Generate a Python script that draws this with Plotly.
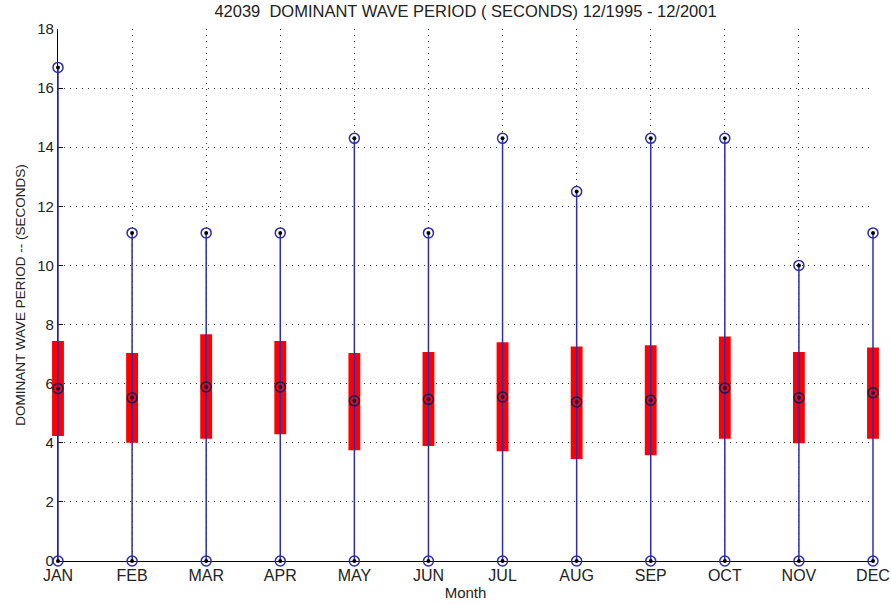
import plotly.graph_objects as go

# Monthly dominant wave period statistics, buoy 42039 (seconds)
months = ["JAN", "FEB", "MAR", "APR", "MAY", "JUN",
          "JUL", "AUG", "SEP", "OCT", "NOV", "DEC"]
period_max = [16.7, 11.1, 11.1, 11.1, 14.3, 11.1, 14.3, 12.5, 14.3, 14.3, 10.0, 11.1]
period_min = [0.0, 0.0, 0.0, 0.0, 0.0, 0.0, 0.0, 0.0, 0.0, 0.0, 0.0, 0.0]
period_q1 = [4.23, 4.00, 4.14, 4.29, 3.75, 3.89, 3.71, 3.45, 3.58, 4.14, 3.98, 4.14]
period_q3 = [7.44, 7.04, 7.67, 7.44, 7.04, 7.07, 7.40, 7.26, 7.30, 7.60, 7.07, 7.22]
period_median = [5.84, 5.52, 5.89, 5.89, 5.42, 5.47, 5.55, 5.38, 5.44, 5.85, 5.52, 5.69]

BLUE = "#2c2cb4"
FONT = "Liberation Sans, Arial, sans-serif"

W, H = 891, 604
ML, MR = 50, 10                 # outer margins of the (wider) data layer
AX_L, AX_R = 58, 873            # pixel extent of the visible axes
plot_w = W - ML - MR
dom = [(AX_L - ML) / plot_w, (AX_R - ML) / plot_w]
px_per_cat = (AX_R - AX_L) / (len(months) - 1)
data_range = [-(AX_L - ML) / px_per_cat,
              (len(months) - 1) + (W - MR - AX_R) / px_per_cat]

fig = go.Figure()

# axes frame subplot (grid, ticks, labels)
fig.add_trace(go.Scatter(x=[months[0]], y=[None], mode="markers",
                         xaxis="x", yaxis="y", showlegend=False, hoverinfo="skip"))

# interquartile boxes
fig.add_trace(go.Bar(
    x=months,
    y=[q3 - q1 for q1, q3 in zip(period_q1, period_q3)],
    base=period_q1,
    width=0.16,
    marker=dict(color="#ff0000", line=dict(width=0)),
    xaxis="x2", yaxis="y2", hoverinfo="skip",
))

# whiskers from min to max
wx, wy = [], []
for m, lo, hi in zip(months, period_min, period_max):
    wx += [m, m, None]
    wy += [lo, hi, None]
fig.add_trace(go.Scatter(
    x=wx, y=wy, mode="lines",
    line=dict(color=BLUE, width=1.5),
    xaxis="x2", yaxis="y2", hoverinfo="skip",
))

# extreme markers (max and min)
ext_x = months + months
ext_y = period_max + period_min
fig.add_trace(go.Scatter(
    x=ext_x, y=ext_y, mode="markers",
    marker=dict(symbol="circle-open", size=10, color=BLUE, line=dict(width=1.5)),
    xaxis="x2", yaxis="y2", cliponaxis=False, hoverinfo="skip",
))
fig.add_trace(go.Scatter(
    x=ext_x, y=ext_y, mode="markers",
    marker=dict(symbol="circle", size=4, color="black"),
    xaxis="x2", yaxis="y2", cliponaxis=False, hoverinfo="skip",
))

# median markers
fig.add_trace(go.Scatter(
    x=months, y=period_median, mode="markers",
    marker=dict(symbol="circle-open", size=10, color="#1a1a50", line=dict(width=1.5)),
    xaxis="x2", yaxis="y2", cliponaxis=False, hoverinfo="skip",
))
fig.add_trace(go.Scatter(
    x=months, y=period_median, mode="markers",
    marker=dict(symbol="circle", size=4, color="#10104a"),
    xaxis="x2", yaxis="y2", cliponaxis=False, hoverinfo="skip",
))

fig.update_layout(
    width=W, height=H,
    margin=dict(l=ML, r=MR, t=29, b=43),
    paper_bgcolor="white", plot_bgcolor="rgba(0,0,0,0)",
    showlegend=False,
    font=dict(family=FONT, size=14, color="#222222"),
    title=dict(
        text="42039  DOMINANT WAVE PERIOD ( SECONDS) 12/1995 - 12/2001",
        x=(dom[0] + dom[1]) / 2, xref="paper", xanchor="center",
        y=1, yref="container", yanchor="top", pad=dict(t=5),
        font=dict(family=FONT, size=16.5, color="#222222"),
    ),
    xaxis=dict(
        type="category", categoryorder="array", categoryarray=months,
        range=[0, len(months) - 1], domain=dom, anchor="y",
        automargin=False, layer="below traces",
        showgrid=True, gridcolor="#333333", gridwidth=1, griddash="1px,5px",
        showline=True, linecolor="black", linewidth=1.2,
        ticks="inside", ticklen=5, tickcolor="black",
        title=dict(text="Month", standoff=4, font=dict(size=15)),
        tickfont=dict(size=16),
        zeroline=False,
    ),
    yaxis=dict(
        range=[0, 18], tickvals=list(range(0, 19, 2)), anchor="x",
        automargin=False, layer="below traces",
        showgrid=True, gridcolor="#333333", gridwidth=1, griddash="1px,5px",
        showline=True, linecolor="black", linewidth=1.2,
        ticks="inside", ticklen=5, tickcolor="black",
        title=dict(text="DOMINANT WAVE PERIOD -- (SECONDS)", standoff=8, font=dict(size=13.5)),
        tickfont=dict(size=15),
        zeroline=False,
    ),
    xaxis2=dict(
        type="category", categoryorder="array", categoryarray=months,
        range=data_range, domain=[0, 1], anchor="y2", visible=False,
    ),
    yaxis2=dict(range=[0, 18], anchor="x2", visible=False),
)

fig.write_html("out.html")
